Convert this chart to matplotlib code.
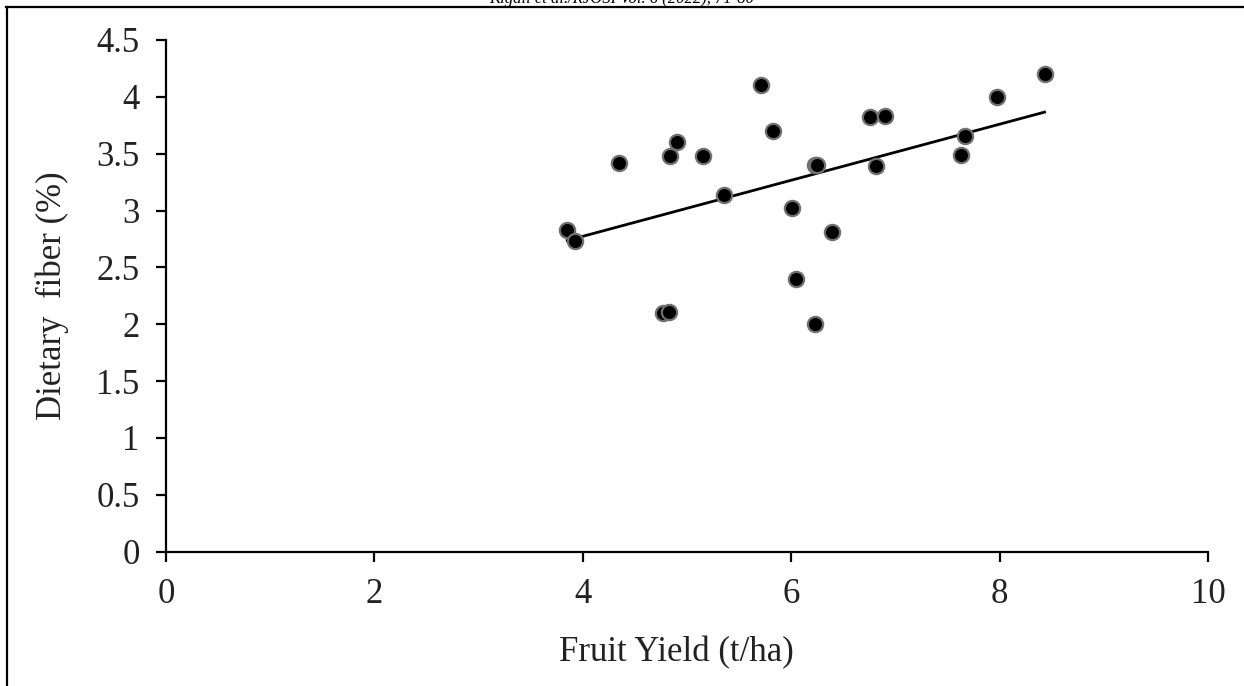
import numpy as np
import matplotlib
matplotlib.use("Agg")
import matplotlib.pyplot as plt
from matplotlib.lines import Line2D

# Fruit yield (t/ha) vs dietary fiber (%)
fruit_yield = [3.85, 3.92, 4.35, 4.77, 4.83, 4.84, 4.90, 5.15, 5.35, 5.71,
               5.82, 6.01, 6.05, 6.23, 6.25, 6.23, 6.39, 6.76, 6.81, 6.90,
               7.63, 7.67, 7.97, 8.43]
dietary_fiber = [2.83, 2.73, 3.42, 2.10, 2.11, 3.48, 3.60, 3.48, 3.14, 4.10,
                 3.70, 3.02, 2.40, 3.40, 3.40, 2.00, 2.81, 3.82, 3.39, 3.83,
                 3.49, 3.66, 4.00, 4.20]
x_ticks = [0, 2, 4, 6, 8, 10]
y_ticks = [0, 0.5, 1, 1.5, 2, 2.5, 3, 3.5, 4, 4.5]
y_tick_labels = ["0", "0.5", "1", "1.5", "2", "2.5", "3", "3.5", "4", "4.5"]

plt.rcParams["font.family"] = ["Liberation Serif", "DejaVu Serif"]

fig = plt.figure(figsize=(12.44, 6.86), dpi=100)
ax = fig.add_axes([0.1334, 0.1958, 0.8378, 0.7459])

# linear trend line over the data range
slope, intercept = np.polyfit(fruit_yield, dietary_fiber, 1)
xs = np.array([min(fruit_yield), max(fruit_yield)])
ax.plot(xs, slope * xs + intercept, color="black", lw=2.0, zorder=2)

ax.plot(fruit_yield, dietary_fiber, "o", ms=11, mfc="black",
        mec="#707070", mew=1.6, zorder=3, clip_on=False)

ax.set_xlim(0, 10)
ax.set_ylim(0, 4.5)
ax.set_xticks(x_ticks)
ax.set_xticklabels([str(t) for t in x_ticks])
ax.set_yticks(y_ticks)
ax.set_yticklabels(y_tick_labels)

for side in ("top", "right"):
    ax.spines[side].set_visible(False)
for side in ("left", "bottom"):
    ax.spines[side].set_linewidth(1.6)
ax.tick_params(axis="both", direction="out", length=7, width=1.6,
               labelsize=25, color="black", labelcolor="#222222")
ax.tick_params(axis="y", pad=12)
ax.tick_params(axis="x", pad=12)

ax.set_xlabel("Fruit Yield (t/ha)", fontsize=25, color="#222222")
ax.xaxis.set_label_coords(0.49, -0.165)
ax.set_ylabel("Dietary  fiber (%)", fontsize=25, labelpad=20, color="#222222")

# page frame and cut-off running header
fig.add_artist(Line2D([6 / 1244, 1], [1 - 7 / 686, 1 - 7 / 686],
                      color="black", lw=1.6, transform=fig.transFigure))
fig.add_artist(Line2D([7 / 1244, 7 / 1244], [0, 1 - 7 / 686],
                      color="black", lw=1.6, transform=fig.transFigure))
fig.text(0.5, 1 - 3 / 686, "Kigali et al./RJOSI Vol. 6 (2022), 71-80",
         ha="center", va="baseline", fontsize=12, style="italic")

fig.savefig("out.png", dpi=100)
